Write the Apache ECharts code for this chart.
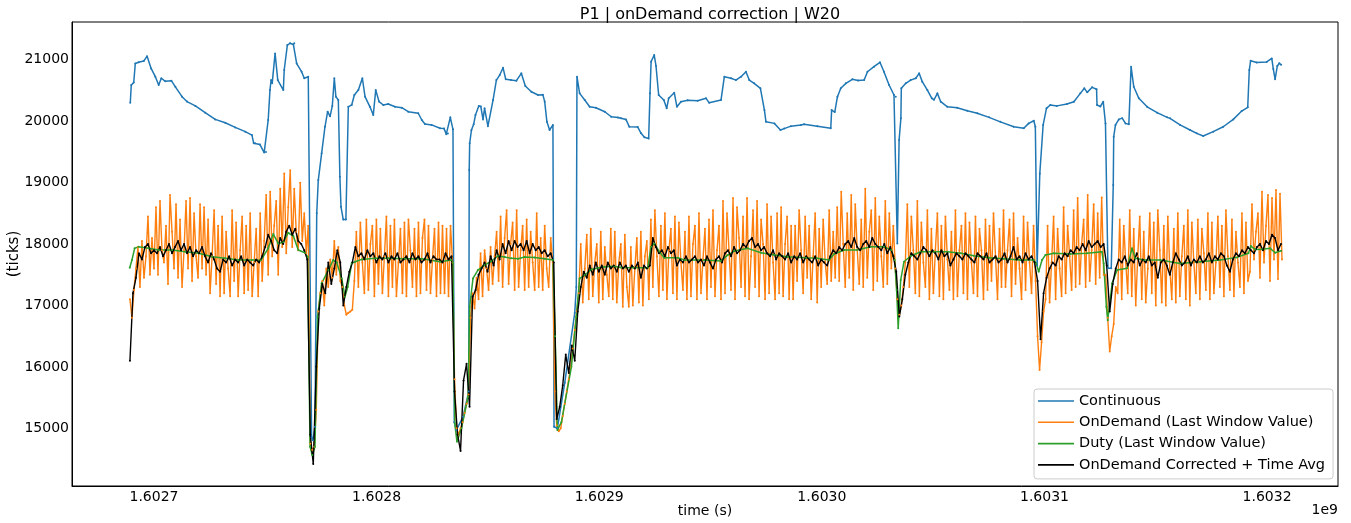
<!DOCTYPE html>
<html><head><meta charset="utf-8">
<script src="https://cdn.jsdelivr.net/npm/echarts@6/dist/echarts.min.js"></script>
<style>html,body{margin:0;padding:0;background:#fff}#c{width:1351px;height:523px}</style>
</head><body><div id="c"></div>
<script>
const TITLE = 'P1 | onDemand correction | W20';
const X_NAME = 'time (s)';
const Y_NAME = '(ticks)';
const X_OFFSET_LABEL = '1e9';
const SERIES_NAMES = ['Continuous', 'OnDemand (Last Window Value)', 'Duty (Last Window Value)', 'OnDemand Corrected + Time Avg'];
const T_BASE = 1602700000;               // seconds; times below are ks relative to this
const X_TICKS = [1602700000, 1602800000, 1602900000, 1603000000, 1603100000, 1603200000];
const Y_TICKS = [15000, 16000, 17000, 18000, 19000, 20000, 21000];

// Continuous: [time (ks from T_BASE), ticks]
const continuous = [
[-10.65,20300],[-10.2,20590],[-9.1,20630],[-8.4,20940],[-6.9,20960],[-4.6,20980],[-3.1,21060],[-1.3,20860],[0.6,20725],[2.1,20590],
[3.3,20700],[5.1,20650],[7.8,20660],[9.6,20560],[12.6,20400],[14.8,20320],[18.6,20250],[23.0,20140],[27.5,20030],[32.0,19975],
[36.5,19900],[41.0,19830],[44.0,19775],[44.8,19640],[45.4,19640],[47.6,19620],[49.5,19490],[50.3,19500],[51.3,20020],[52.1,20508],
[52.6,20670],[53.1,20620],[54.4,21105],[55.6,20670],[58.1,20508],[58.5,20834],[59.9,21240],[61.1,21270],[62.6,21250],[63.0,21270],
[64.1,20940],[66.3,20806],[67.5,20700],[69.3,20725],[70.8,14850],[71.4,14806],[72.3,15025],[73.1,18500],[73.8,19042],[75.3,19477],
[76.8,19910],[78.0,20155],[79.1,20080],[80.1,20250],[81.0,20700],[81.7,20400],[82.8,20345],[83.5,19095],[84.0,18607],[85.0,18400],
[86.2,18400],[87.3,20235],[88.8,20265],[90.0,20427],[91.8,20508],[93.6,20700],[94.8,20400],[97.0,20235],[98.5,20100],[99.6,20508],
[101.1,20320],[103.0,20265],[105.2,20280],[108.3,20235],[111.3,20220],[114.2,20155],[118.7,20130],[120.3,20020],[121.7,19955],[124.7,19940],
[128.5,19885],[130.3,19880],[131.3,19790],[132.0,19800],[133.1,20063],[134.3,19868],[134.9,15100],[135.8,14970],[138.8,15187],[141.4,15600],
[141.6,19205],[141.8,19640],[142.6,19857],[143.6,19950],[144.4,20100],[145.9,20250],[146.8,20240],[147.8,20030],[148.5,20210],[150.0,19920],
[152.3,20345],[153.8,20670],[155.3,20752],[156.8,20870],[158.0,20683],[160.4,20670],[162.8,20660],[165.0,20780],[166.8,20573],[169.5,20480],
[172.5,20427],[174.7,20430],[175.5,20320],[176.5,19990],[177.7,19857],[179.2,19940],[179.7,15025],[181.2,15000],[184.5,15740],[189.0,16880],
[189.7,17300],[190.0,20725],[191.2,20454],[193.5,20345],[195.7,20235],[198.5,20220],[202.5,20155],[205.4,20073],[208.4,20060],[209.8,20047],
[212.0,20030],[213.5,19910],[217.3,19905],[218.8,19803],[220.3,19738],[222.2,19720],[222.8,20454],[223.3,20970],[224.7,21078],[225.5,20900],
[226.7,20427],[229.0,20345],[230.3,20210],[231.2,20373],[233.7,20465],[234.9,20235],[236.7,20318],[239.7,20340],[244.2,20334],[248.0,20373],
[249.4,20300],[254.7,20345],[256.2,20725],[259.2,20700],[261.4,20670],[263.7,20725],[265.9,20806],[267.4,20670],[269.6,20617],[272.4,20536],
[274.2,20182],[274.9,19990],[278.7,19965],[281.4,19857],[283.1,19880],[286.1,19920],[290.6,19940],[292.0,19950],[298.0,19920],[304.0,19885],
[304.4,20182],[305.8,20150],[307.0,20400],[308.5,20536],[310.8,20617],[313.7,20683],[316.3,20665],[319.0,20670],[320.5,20806],[323.4,20888],
[326.1,20960],[327.9,20806],[330.2,20590],[332.4,20427],[333.2,20400],[333.9,18010],[334.7,19694],[335.5,20047],[335.7,20536],[337.7,20617],
[339.9,20670],[342.2,20700],[343.7,20780],[345.1,20645],[347.4,20508],[349.4,20373],[350.4,20350],[351.9,20454],[353.4,20318],[356.4,20235],
[360.8,20220],[365.3,20170],[369.8,20130],[375.1,20063],[380.2,19990],[386.2,19910],[390.7,19885],[392.9,19965],[395.2,20008],[395.9,19910],
[396.7,17650],[397.9,19150],[399.4,19940],[400.9,20210],[402.6,20265],[405.6,20250],[410.1,20280],[413.2,20318],[416.1,20454],[417.9,20536],
[419.2,20470],[421.4,20552],[423.4,20520],[423.6,20265],[425.1,20240],[426.4,20318],[427.4,19965],[428.5,17605],[430.0,17605],[430.9,18961],
[431.1,19748],[431.9,19940],[433.4,20030],[434.9,20050],[436.4,19965],[437.9,19950],[438.9,20888],[440.1,20562],[442.4,20373],[446.1,20235],
[450.6,20140],[455.1,20063],[456.4,20047],[460.9,19940],[465.4,19857],[468.4,19803],[471.3,19760],[475.8,19830],[480.3,19910],[484.8,20030],
[488.6,20166],[491.3,20227],[492.0,20834],[492.6,20985],[495.3,20955],[499.8,20965],[502.1,21022],[502.8,20850],[503.6,20683],[504.6,20900],
[505.5,20943],[506.3,20920]
];

// Duty (Last Window Value): [time (ks from T_BASE), ticks]
const duty = [
[-10.9,17615],[-9.9,17740],[-8.7,17930],[-6.9,17957],[-2.4,17930],[2.1,17902],[8.1,17902],[14.1,17875],[20.1,17850],[26.1,17793],
[32.0,17767],[38.0,17740],[44.0,17740],[48.0,17735],[51.3,17930],[53.6,18163],[55.8,18010],[58.1,18030],[60.3,18184],[62.6,18130],
[64.8,17902],[67.8,17858],[69.0,17790],[70.1,14700],[71.1,14563],[72.3,14700],[73.5,16816],[75.3,17360],[78.3,17576],[80.5,17740],
[82.1,17700],[84.3,17441],[85.8,17142],[87.0,17300],[88.8,17685],[90.3,17712],[93.3,17750],[99.3,17767],[105.2,17767],[112.7,17760],
[120.3,17760],[128.5,17712],[133.5,17740],[134.3,17700],[135.1,15080],[136.1,14780],[138.1,15000],[141.1,15513],[141.8,16980],[143.3,17441],
[145.5,17576],[148.5,17658],[151.5,17720],[154.5,17805],[157.5,17790],[160.5,17767],[163.5,17760],[166.5,17790],[171.0,17780],[175.5,17760],
[179.2,17740],[180.2,16500],[181.2,14970],[183.0,15100],[187.5,16000],[189.7,16816],[191.2,17441],[193.5,17495],[196.5,17587],[199.5,17610],
[202.5,17630],[206.7,17640],[209.8,17620],[215.6,17615],[221.8,17615],[223.3,17957],[224.7,18010],[227.0,17875],[229.2,17776],[235.3,17776],
[238.2,17740],[247.1,17740],[254.7,17725],[257.7,17820],[260.7,17886],[266.7,17930],[272.7,17858],[278.6,17820],[284.6,17793],[292.9,17776],
[297.8,17770],[303.2,17740],[305.5,17837],[310.0,17902],[315.9,17902],[321.9,17957],[327.9,17957],[331.2,17902],[332.7,17740],[333.6,17250],
[334.3,16630],[335.4,17413],[336.9,17712],[339.9,17805],[344.4,17875],[350.4,17875],[356.4,17875],[362.4,17850],[368.3,17810],[375.1,17776],
[381.7,17760],[389.1,17740],[395.2,17740],[396.3,17685],[397.4,17549],[398.9,17740],[400.4,17820],[404.2,17850],[411.6,17840],[419.1,17850],
[425.8,17875],[426.6,17685],[427.8,16980],[428.4,16761],[430.4,17360],[432.6,17576],[437.1,17605],[439.3,17930],[440.8,17767],[444.6,17740],
[452.0,17740],[460.9,17685],[469.9,17712],[478.9,17740],[486.4,17783],[491.6,17850],[492.7,17967],[494.6,17913],[497.8,17915],[501.4,17930],
[503.6,17858],[506.3,17890]
];

// OnDemand (Last Window Value): first window time and window length (ks from T_BASE), one value per window
const OD_START_KS = -10.8;
const OD_STEP_KS = 0.9;
const onDemand = [
17100,16800,17250,17600,17950,17300,18050,17450,17800,18450,17500,18100,17600,
18600,17500,18700,17900,17700,18300,17350,18800,18200,17600,18650,17450,18400,17300,17900,18700,17600,18750,17400,18500,17800,17450,18650,17600,
18600,17500,18400,17200,17800,18550,17350,18300,17150,18450,17200,18200,17600,17150,18550,17400,18350,17150,17900,18450,17200,18300,17250,18500,17150,17700,18250,
17150,18500,17400,18050,18800,17500,18850,17800,18300,18700,17500,18900,17950,
19150,17850,18600,19200,17950,18900,18200,17900,19000,18050,18500,17850,18300,
14750,14650,14700,15300,
16900,17200,17400,17000,17600,17300,17750,17450,18050,17500,17950,17400,17300,17000,16850,16880,16900,16930,17400,
18200,17300,18350,17700,17200,18400,17250,18000,18300,17150,18400,17350,18250,17200,17800,18450,17150,18300,17300,18400,17150,17700,18250,17200,18350,17150,18400,17900,17300,18250,17150,18350,17200,18100,18400,17250,18300,17200,17750,18250,17150,18350,
17200,18300,17200,18250,17150,18300,17700,
15800,15000,14900,15000,15100,15250,15400,15550,16800,
17200,16950,17450,17100,17850,17150,17900,17600,17250,17950,17350,17800,18200,17400,18450,17300,18100,18550,17350,18000,
18350,17250,18550,17300,17900,18300,17250,18400,17300,18200,17700,17250,18500,17300,18100,17250,18300,17600,17300,18100,
17700,15600,15050,14950,15000,15200,15400,15600,15800,16000,16300,16600,16900,
17200,18000,17050,17600,18150,17100,18250,17150,17700,18000,17050,18200,17100,17950,17500,17150,18250,17100,18200,17050,17700,18000,16980,18150,17300,16980,17950,17000,17600,18100,17050,18200,17000,17800,18050,17100,
18400,17300,18550,17800,17150,18300,17250,18500,17100,17900,18250,17200,18450,17100,18350,17700,17250,18200,17100,18450,17150,18000,18300,17100,18500,17200,17750,18250,17100,18400,17300,18550,17150,17900,18300,17100,
18700,17200,18500,17900,17250,18750,17100,18600,18100,17300,18450,17150,18750,17100,17800,18550,17300,18700,17150,18400,18000,17100,18650,17200,18450,17700,17100,18500,17200,18600,17150,18000,18450,17100,18300,
17100,18300,17400,18550,17900,17200,18450,17450,18300,17100,17800,18500,17050,18250,17300,18400,17700,17350,18550,17400,18200,17450,
18600,17400,18850,18000,17300,18500,17450,18800,17250,18650,17900,17350,18400,17300,18900,17450,18200,18550,17250,18750,17400,18450,17800,17300,18700,17350,18500,17600,18300,
17600,17100,16850,17000,17300,17700,
18650,17300,18450,17900,17200,18700,17150,18350,17700,17300,18550,17100,18250,17200,17900,18500,17150,18300,17100,18450,17750,17250,18200,17100,18550,17150,17900,18300,17200,18500,17100,18350,17700,17200,18450,17150,18250,17900,17100,18400,17250,18300,
17400,18500,17800,17100,18250,17300,18550,17300,17900,18400,17150,18500,17350,18100,17600,17100,18450,17250,18350,17700,17200,18300,17400,
16500,15950,16400,16900,17100,
18300,17050,17700,18450,17100,18250,17600,17150,18600,17200,18300,17800,17250,18550,17300,18750,17350,18000,18400,17300,18800,17400,17900,18650,17350,18500,17450,18760,17500,
17500,16800,16250,16500,16700,17300,17200,
18400,17100,18300,17700,17200,18550,17150,18250,17000,17800,18450,17100,18200,17050,17600,18500,17200,18350,17000,18550,17900,17050,18300,17000,18450,17600,17100,18250,17050,18500,17150,17800,18300,17100,18550,17000,18350,17700,17200,18400,17100,18250,17850,17250,18500,17100,18350,17200,17700,18450,17300,18300,17150,18550,17800,17250,18400,17150,18200,17700,17300,18500,17200,18350,17400,
17550,18650,17750,18200,18500,17450,18850,17700,18300,18800,17400,18750,17750,18880,17430,18820,17750
];

// OnDemand Corrected + Time Avg: first window time and window length (ks from T_BASE), one value per window
const CORR_START_KS = -10.8;
const CORR_STEP_KS = 1.35;
const corrected = [
16100,17200,17450,17850,17750,17950,18000,17850,17900,
17850,17950,17800,17900,18000,17850,17950,18050,17900,18000,17850,17950,17800,17900,17850,17950,
17800,17700,17850,17750,17600,17550,17750,17700,17800,17650,17750,17700,17800,17650,17750,17700,17650,17750,
17700,17800,17950,18150,18050,17900,17850,18100,18000,18200,18300,18150,18250,18050,18000,17900,17750,
14900,14420,16000,16950,17350,17200,17700,17350,17600,17900,17700,17000,17300,17550,17700,
17950,17800,17850,17750,17900,17800,17850,17700,17800,17750,17850,17700,17800,17750,17850,17700,17750,17800,17700,17850,17750,17800,17700,17750,17850,17700,17800,17750,
17750,17700,17850,17750,17800,
15600,14900,14630,15780,16050,15350,17140,17250,17500,17600,
17700,17550,17800,17650,17900,17750,18000,17850,18050,17900,18050,17950,18000,17900,18050,17850,18000,17900,17950,17850,17900,17800,17850,
17700,15150,15350,15700,16200,15900,16350,16100,16900,17300,
17550,17450,17650,17500,17700,17550,17650,17500,17700,17600,17650,17550,17700,17600,17650,17550,17650,17600,17700,17450,17650,17600,17650,
18100,17950,17850,17900,17800,17950,17850,17900,17650,17750,17700,17800,17700,17750,17800,17700,17750,17650,17800,17700,17600,17750,17800,17700,
17850,17900,17800,17950,17850,17900,18000,17950,18050,18100,17950,18000,17900,17950,17850,17800,17900,17750,17850,17800,17750,17850,17700,
17800,17750,17850,17700,17800,17750,17700,17800,17650,17750,17700,17650,17800,17900,
17850,17950,17900,18000,18050,17950,18100,17950,17900,18000,18050,17950,18100,18000,17950,17900,18000,17850,17950,17800,
17550,16820,17100,17500,
17700,17850,17800,17750,17850,17950,17900,17800,17900,17850,17750,17900,17800,17850,17650,17750,17850,17800,17750,17850,17800,17750,17700,17850,17800,17750,17850,17700,
17750,17800,17700,17750,17850,17700,17800,17950,17750,17800,17700,17850,17750,17800,17700,
17400,16450,17200,17450,
17600,17700,17650,17800,17750,17850,17800,17900,17850,17950,17900,18000,17900,18050,17950,18000,18050,17950,18000,
17650,16900,17350,17600,17750,
17700,17800,17650,17750,17700,17850,17650,17750,17700,17800,17650,17700,17450,17700,17750,17650,17500,17700,17850,17750,17650,17700,17800,17650,17750,17700,17800,17700,17750,17850,17700,17800,17750,17850,17800,17650,17550,17750,17850,17800,17900,17850,17950,
17900,17850,17950,18000,17900,18050,18000,18150,18100,17900,18000
];

const toSec = ks => T_BASE + ks * 1000;
const pairs = arr => arr.map(p => [toSec(p[0]), p[1]]);
const windowed = (vals, start, step) => vals.map((v, i) => [toSec(start + i * step), v]);

const FONT = 'DejaVu Sans';
const chart = echarts.init(document.getElementById('c'), null, {renderer: 'canvas'});
const mk = (name, color, data, w) => ({
  name, type: 'line', data, color,
  symbol: 'circle', symbolSize: 2, showSymbol: true,
  lineStyle: {width: w, color}, itemStyle: {color},
  emphasis: {disabled: true}, animation: false
});
chart.setOption({
  animation: false,
  backgroundColor: '#ffffff',
  textStyle: {fontFamily: FONT},
  title: {text: TITLE, left: 705, textAlign: 'center', top: 2,
    textStyle: {fontFamily: FONT, fontSize: 16, fontWeight: 'normal', color: '#000'}},
  grid: {left: 72, right: 13, top: 22, bottom: 37, containLabel: false, outerBoundsMode: 'none',
    show: true, borderColor: '#000', borderWidth: 1, backgroundColor: 'transparent'},
  xAxis: {
    type: 'value', min: toSec(-36.83), max: toSec(531.85),
    name: X_NAME, nameLocation: 'middle', nameGap: 18, nameMoveOverlap: false,
    nameTextStyle: {fontFamily: FONT, fontSize: 14, color: '#000'},
    axisLine: {show: true, lineStyle: {color: '#000'}},
    axisTick: {show: false},
    splitLine: {show: false},
    axisLabel: {customValues: X_TICKS, formatter: v => (v / 1e9).toFixed(4), margin: 4,
      fontFamily: FONT, fontSize: 14, color: '#000'}
  },
  yAxis: {
    type: 'value', min: 14060, max: 21616,
    name: Y_NAME, nameLocation: 'middle', nameGap: 50, nameRotate: 90, nameMoveOverlap: false,
    nameTextStyle: {fontFamily: FONT, fontSize: 15, color: '#000'},
    axisLine: {show: true, lineStyle: {color: '#000'}},
    axisTick: {show: false},
    splitLine: {show: false},
    axisLabel: {customValues: Y_TICKS, formatter: v => String(v), margin: 3,
      fontFamily: FONT, fontSize: 14, color: '#000'}
  },
  legend: {
    orient: 'vertical', left: 1034, top: 389,
    data: SERIES_NAMES.map(n => ({name: n, icon: 'rect'})),
    itemWidth: 36, itemHeight: 1.6, itemGap: 5.3,
    padding: [4, 8, 6, 4],
    backgroundColor: 'rgba(255,255,255,0.8)', borderColor: '#cccccc', borderWidth: 1, borderRadius: 3,
    textStyle: {fontFamily: FONT, fontSize: 14.5, color: '#000', lineHeight: 16}
  },
  graphic: [{type: 'text', right: 13, top: 503,
    style: {text: X_OFFSET_LABEL, font: '14px "DejaVu Sans"', fill: '#000'}}],
  series: [
    mk(SERIES_NAMES[0], '#1f77b4', pairs(continuous), 1.5),
    mk(SERIES_NAMES[1], '#ff7f0e', windowed(onDemand, OD_START_KS, OD_STEP_KS), 1.4),
    mk(SERIES_NAMES[2], '#2ca02c', pairs(duty), 1.5),
    mk(SERIES_NAMES[3], '#000000', windowed(corrected, CORR_START_KS, CORR_STEP_KS), 1.4)
  ]
});
</script></body></html>
